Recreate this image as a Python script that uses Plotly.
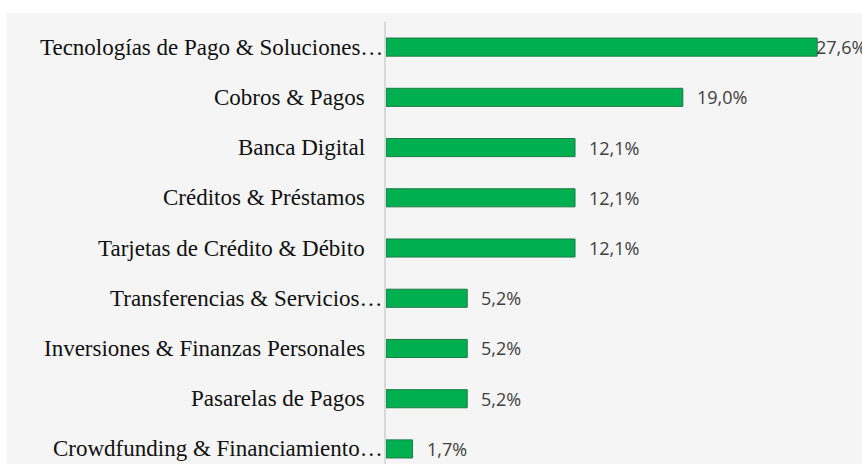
import plotly.graph_objects as go

# ── DATOS ─────────────────────────────────────────────────────────────────────
categorias = [
    'Tecnologías de Pago & Soluciones…',
    'Cobros & Pagos',
    'Banca Digital',
    'Créditos & Préstamos',
    'Tarjetas de Crédito & Débito',
    'Transferencias & Servicios…',
    'Inversiones & Finanzas Personales',
    'Pasarelas de Pagos',
    'Crowdfunding & Financiamiento…',
]
valores = [27.6, 19.0, 12.1, 12.1, 12.1, 5.2, 5.2, 5.2, 1.7]
etiquetas = [f'{v:.1f}%'.replace('.', ',') for v in valores]

VERDE = '#00B050'
BORDE = '#1E7B45'
FONDO = '#F5F5F5'

fig = go.Figure()
fig.add_trace(go.Bar(
    x=valores, y=categorias, orientation='h',
    marker=dict(color=VERDE, line=dict(color=BORDE, width=1)),
    hoverinfo='skip',
))

# etiquetas de categoría (los textos truncados llegan hasta el eje)
for cat in categorias:
    fig.add_annotation(
        x=0, xref='paper', y=cat, yref='y',
        text=cat, showarrow=False, xanchor='right',
        xshift=-1 if cat.endswith('…') else -19,
        font=dict(family='Liberation Serif', size=23, color='#111111'),
    )

# etiquetas de valor
vmax = max(valores)
for cat, v, txt in zip(categorias, valores, etiquetas):
    fig.add_annotation(
        x=v, y=cat, text=txt, showarrow=False, xanchor='left',
        xshift=-3 if v == vmax else 12,
        font=dict(family='Open Sans', size=18, color='#404040'),
    )

# fondo gris del área del gráfico
fig.add_shape(
    type='rect', xref='paper', yref='paper', layer='below',
    x0=-0.797, x1=1.05, y0=-0.1, y1=1.0204,
    fillcolor=FONDO, line_width=0,
)

fig.update_layout(
    width=862, height=464,
    margin=dict(l=386, r=0, t=22, b=0),
    paper_bgcolor='white', plot_bgcolor='rgba(0,0,0,0)',
    bargap=0.64, showlegend=False,
)
fig.update_xaxes(
    range=[0, 30.47], showgrid=False, zeroline=False,
    showticklabels=False, ticks='',
)
fig.update_yaxes(
    range=[8.30, -0.5], showticklabels=False, ticks='',
    showgrid=False, zeroline=False,
    showline=True, linecolor='#D9D9D9', linewidth=1.5,
)

fig.write_html(
    'out.html',
    config={'displayModeBar': False},
    post_script="document.body.style.margin='0';"
                "document.body.style.overflow='hidden';",
)
